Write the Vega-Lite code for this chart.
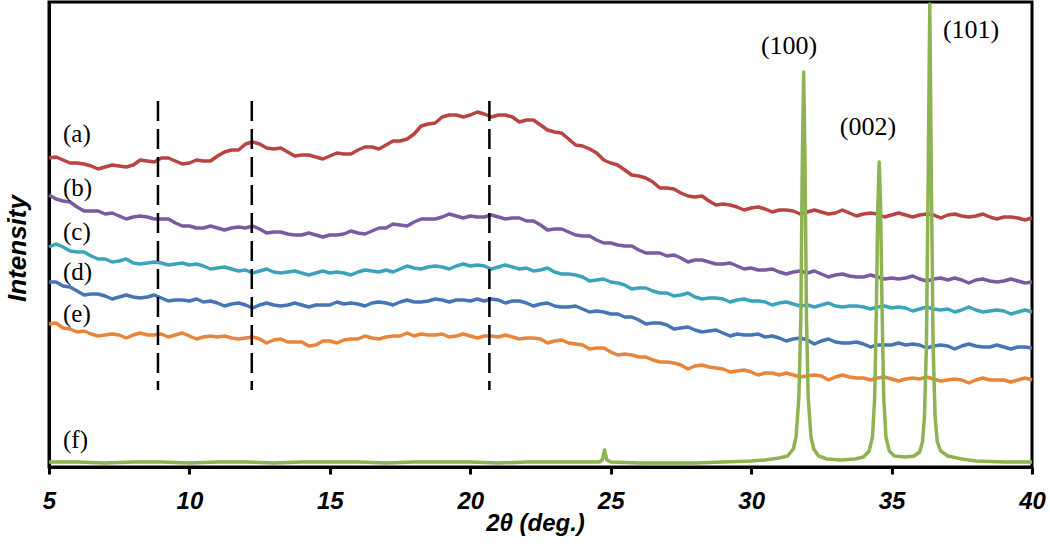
{
  "$schema": "https://vega.github.io/schema/vega-lite/v6.json",
  "width": 983,
  "height": 465,
  "autosize": "none",
  "padding": {"left": 49, "top": 2, "right": 18, "bottom": 79},
  "background": "white",
  "config": {
    "view": {"stroke": "black", "strokeWidth": 3},
    "axis": {"grid": false, "domainColor": "black", "domainWidth": 3, "tickColor": "black"}
  },
  "datasets": {
    "curves": [
      {"s":"a","x":5,"y":309},{"s":"a","x":5.25,"y":310},{"s":"a","x":5.5,"y":307},{"s":"a","x":5.75,"y":304},{"s":"a","x":6,"y":304},{"s":"a","x":6.25,"y":303},{"s":"a","x":6.5,"y":301},{"s":"a","x":6.75,"y":298},{"s":"a","x":7,"y":300},{"s":"a","x":7.25,"y":302},{"s":"a","x":7.5,"y":301},{"s":"a","x":7.75,"y":300},{"s":"a","x":8,"y":302},{"s":"a","x":8.25,"y":307},{"s":"a","x":8.5,"y":306},{"s":"a","x":8.75,"y":305},{"s":"a","x":9,"y":309},{"s":"a","x":9.25,"y":309},{"s":"a","x":9.5,"y":306},{"s":"a","x":9.75,"y":303},{"s":"a","x":10,"y":304},{"s":"a","x":10.25,"y":307},{"s":"a","x":10.5,"y":306},{"s":"a","x":10.75,"y":306},{"s":"a","x":11,"y":311},{"s":"a","x":11.25,"y":315},{"s":"a","x":11.5,"y":317},{"s":"a","x":11.75,"y":317},{"s":"a","x":12,"y":323},{"s":"a","x":12.25,"y":325},{"s":"a","x":12.5,"y":323},{"s":"a","x":12.75,"y":319},{"s":"a","x":13,"y":318},{"s":"a","x":13.25,"y":319},{"s":"a","x":13.5,"y":315},{"s":"a","x":13.75,"y":311},{"s":"a","x":14,"y":312},{"s":"a","x":14.25,"y":312},{"s":"a","x":14.5,"y":310},{"s":"a","x":14.75,"y":308},{"s":"a","x":15,"y":311},{"s":"a","x":15.25,"y":314},{"s":"a","x":15.5,"y":313},{"s":"a","x":15.75,"y":313},{"s":"a","x":16,"y":317},{"s":"a","x":16.25,"y":320},{"s":"a","x":16.5,"y":320},{"s":"a","x":16.75,"y":318},{"s":"a","x":17,"y":322},{"s":"a","x":17.25,"y":326},{"s":"a","x":17.5,"y":326},{"s":"a","x":17.75,"y":328},{"s":"a","x":18,"y":333},{"s":"a","x":18.25,"y":341},{"s":"a","x":18.5,"y":343},{"s":"a","x":18.75,"y":344},{"s":"a","x":19,"y":350},{"s":"a","x":19.25,"y":352},{"s":"a","x":19.5,"y":352},{"s":"a","x":19.75,"y":350},{"s":"a","x":20,"y":352},{"s":"a","x":20.25,"y":355},{"s":"a","x":20.5,"y":353},{"s":"a","x":20.75,"y":350},{"s":"a","x":21,"y":352},{"s":"a","x":21.25,"y":352},{"s":"a","x":21.5,"y":350},{"s":"a","x":21.75,"y":345},{"s":"a","x":22,"y":347},{"s":"a","x":22.25,"y":347},{"s":"a","x":22.5,"y":342},{"s":"a","x":22.75,"y":337},{"s":"a","x":23,"y":335},{"s":"a","x":23.25,"y":334},{"s":"a","x":23.5,"y":328},{"s":"a","x":23.75,"y":322},{"s":"a","x":24,"y":321},{"s":"a","x":24.25,"y":318},{"s":"a","x":24.5,"y":314},{"s":"a","x":24.75,"y":307},{"s":"a","x":25,"y":304},{"s":"a","x":25.25,"y":302},{"s":"a","x":25.5,"y":297},{"s":"a","x":25.75,"y":292},{"s":"a","x":26,"y":291},{"s":"a","x":26.25,"y":289},{"s":"a","x":26.5,"y":285},{"s":"a","x":26.75,"y":279},{"s":"a","x":27,"y":279},{"s":"a","x":27.25,"y":278},{"s":"a","x":27.5,"y":274},{"s":"a","x":27.75,"y":271},{"s":"a","x":28,"y":270},{"s":"a","x":28.25,"y":271},{"s":"a","x":28.5,"y":266},{"s":"a","x":28.75,"y":262},{"s":"a","x":29,"y":263},{"s":"a","x":29.25,"y":262},{"s":"a","x":29.5,"y":260},{"s":"a","x":29.75,"y":257},{"s":"a","x":30,"y":259},{"s":"a","x":30.25,"y":260},{"s":"a","x":30.5,"y":258},{"s":"a","x":30.75,"y":255},{"s":"a","x":31,"y":257},{"s":"a","x":31.25,"y":257},{"s":"a","x":31.5,"y":256},{"s":"a","x":31.75,"y":253},{"s":"a","x":32,"y":255},{"s":"a","x":32.25,"y":257},{"s":"a","x":32.5,"y":255},{"s":"a","x":32.75,"y":253},{"s":"a","x":33,"y":254},{"s":"a","x":33.25,"y":257},{"s":"a","x":33.5,"y":254},{"s":"a","x":33.75,"y":251},{"s":"a","x":34,"y":253},{"s":"a","x":34.25,"y":254},{"s":"a","x":34.5,"y":253},{"s":"a","x":34.75,"y":250},{"s":"a","x":35,"y":252},{"s":"a","x":35.25,"y":254},{"s":"a","x":35.5,"y":252},{"s":"a","x":35.75,"y":250},{"s":"a","x":36,"y":252},{"s":"a","x":36.25,"y":253},{"s":"a","x":36.5,"y":252},{"s":"a","x":36.75,"y":249},{"s":"a","x":37,"y":252},{"s":"a","x":37.25,"y":253},{"s":"a","x":37.5,"y":251},{"s":"a","x":37.75,"y":250},{"s":"a","x":38,"y":251},{"s":"a","x":38.25,"y":253},{"s":"a","x":38.5,"y":250},{"s":"a","x":38.75,"y":248},{"s":"a","x":39,"y":250},{"s":"a","x":39.25,"y":250},{"s":"a","x":39.5,"y":249},{"s":"a","x":39.75,"y":247},{"s":"a","x":40,"y":249},

      {"s":"b","x":5,"y":272},{"s":"b","x":5.25,"y":268},{"s":"b","x":5.5,"y":266},{"s":"b","x":5.75,"y":265},{"s":"b","x":6,"y":260},{"s":"b","x":6.25,"y":256},{"s":"b","x":6.5,"y":256},{"s":"b","x":6.75,"y":256},{"s":"b","x":7,"y":253},{"s":"b","x":7.25,"y":254},{"s":"b","x":7.5,"y":251},{"s":"b","x":7.75,"y":248},{"s":"b","x":8,"y":250},{"s":"b","x":8.25,"y":251},{"s":"b","x":8.5,"y":250},{"s":"b","x":8.75,"y":248},{"s":"b","x":9,"y":248},{"s":"b","x":9.25,"y":248},{"s":"b","x":9.5,"y":244},{"s":"b","x":9.75,"y":241},{"s":"b","x":10,"y":241},{"s":"b","x":10.25,"y":239},{"s":"b","x":10.5,"y":239},{"s":"b","x":10.75,"y":241},{"s":"b","x":11,"y":239},{"s":"b","x":11.25,"y":237},{"s":"b","x":11.5,"y":239},{"s":"b","x":11.75,"y":240},{"s":"b","x":12,"y":239},{"s":"b","x":12.25,"y":241},{"s":"b","x":12.5,"y":238},{"s":"b","x":12.75,"y":234},{"s":"b","x":13,"y":235},{"s":"b","x":13.25,"y":235},{"s":"b","x":13.5,"y":233},{"s":"b","x":13.75,"y":232},{"s":"b","x":14,"y":232},{"s":"b","x":14.25,"y":234},{"s":"b","x":14.5,"y":232},{"s":"b","x":14.75,"y":230},{"s":"b","x":15,"y":232},{"s":"b","x":15.25,"y":232},{"s":"b","x":15.5,"y":233},{"s":"b","x":15.75,"y":236},{"s":"b","x":16,"y":234},{"s":"b","x":16.25,"y":233},{"s":"b","x":16.5,"y":236},{"s":"b","x":16.75,"y":239},{"s":"b","x":17,"y":239},{"s":"b","x":17.25,"y":243},{"s":"b","x":17.5,"y":242},{"s":"b","x":17.75,"y":241},{"s":"b","x":18,"y":245},{"s":"b","x":18.25,"y":248},{"s":"b","x":18.5,"y":248},{"s":"b","x":18.75,"y":248},{"s":"b","x":19,"y":250},{"s":"b","x":19.25,"y":253},{"s":"b","x":19.5,"y":251},{"s":"b","x":19.75,"y":249},{"s":"b","x":20,"y":251},{"s":"b","x":20.25,"y":250},{"s":"b","x":20.5,"y":250},{"s":"b","x":20.75,"y":252},{"s":"b","x":21,"y":250},{"s":"b","x":21.25,"y":248},{"s":"b","x":21.5,"y":249},{"s":"b","x":21.75,"y":249},{"s":"b","x":22,"y":246},{"s":"b","x":22.25,"y":246},{"s":"b","x":22.5,"y":242},{"s":"b","x":22.75,"y":237},{"s":"b","x":23,"y":238},{"s":"b","x":23.25,"y":238},{"s":"b","x":23.5,"y":235},{"s":"b","x":23.75,"y":232},{"s":"b","x":24,"y":231},{"s":"b","x":24.25,"y":231},{"s":"b","x":24.5,"y":227},{"s":"b","x":24.75,"y":224},{"s":"b","x":25,"y":224},{"s":"b","x":25.25,"y":222},{"s":"b","x":25.5,"y":221},{"s":"b","x":25.75,"y":221},{"s":"b","x":26,"y":217},{"s":"b","x":26.25,"y":214},{"s":"b","x":26.5,"y":214},{"s":"b","x":26.75,"y":214},{"s":"b","x":27,"y":211},{"s":"b","x":27.25,"y":212},{"s":"b","x":27.5,"y":209},{"s":"b","x":27.75,"y":205},{"s":"b","x":28,"y":207},{"s":"b","x":28.25,"y":207},{"s":"b","x":28.5,"y":205},{"s":"b","x":28.75,"y":203},{"s":"b","x":29,"y":203},{"s":"b","x":29.25,"y":204},{"s":"b","x":29.5,"y":201},{"s":"b","x":29.75,"y":198},{"s":"b","x":30,"y":199},{"s":"b","x":30.25,"y":197},{"s":"b","x":30.5,"y":197},{"s":"b","x":30.75,"y":198},{"s":"b","x":31,"y":195},{"s":"b","x":31.25,"y":193},{"s":"b","x":31.5,"y":195},{"s":"b","x":31.75,"y":196},{"s":"b","x":32,"y":194},{"s":"b","x":32.25,"y":196},{"s":"b","x":32.5,"y":193},{"s":"b","x":32.75,"y":190},{"s":"b","x":33,"y":192},{"s":"b","x":33.25,"y":193},{"s":"b","x":33.5,"y":191},{"s":"b","x":33.75,"y":190},{"s":"b","x":34,"y":190},{"s":"b","x":34.25,"y":192},{"s":"b","x":34.5,"y":190},{"s":"b","x":34.75,"y":188},{"s":"b","x":35,"y":189},{"s":"b","x":35.25,"y":188},{"s":"b","x":35.5,"y":189},{"s":"b","x":35.75,"y":191},{"s":"b","x":36,"y":188},{"s":"b","x":36.25,"y":186},{"s":"b","x":36.5,"y":188},{"s":"b","x":36.75,"y":189},{"s":"b","x":37,"y":187},{"s":"b","x":37.25,"y":189},{"s":"b","x":37.5,"y":187},{"s":"b","x":37.75,"y":184},{"s":"b","x":38,"y":187},{"s":"b","x":38.25,"y":188},{"s":"b","x":38.5,"y":186},{"s":"b","x":38.75,"y":185},{"s":"b","x":39,"y":186},{"s":"b","x":39.25,"y":188},{"s":"b","x":39.5,"y":186},{"s":"b","x":39.75,"y":184},{"s":"b","x":40,"y":185},

      {"s":"c","x":5,"y":220},{"s":"c","x":5.25,"y":223},{"s":"c","x":5.5,"y":220},{"s":"c","x":5.75,"y":216},{"s":"c","x":6,"y":215},{"s":"c","x":6.25,"y":215},{"s":"c","x":6.5,"y":211},{"s":"c","x":6.75,"y":208},{"s":"c","x":7,"y":208},{"s":"c","x":7.25,"y":205},{"s":"c","x":7.5,"y":206},{"s":"c","x":7.75,"y":208},{"s":"c","x":8,"y":204},{"s":"c","x":8.25,"y":203},{"s":"c","x":8.5,"y":204},{"s":"c","x":8.75,"y":205},{"s":"c","x":9,"y":204},{"s":"c","x":9.25,"y":202},{"s":"c","x":9.5,"y":203},{"s":"c","x":9.75,"y":204},{"s":"c","x":10,"y":202},{"s":"c","x":10.25,"y":203},{"s":"c","x":10.5,"y":201},{"s":"c","x":10.75,"y":198},{"s":"c","x":11,"y":199},{"s":"c","x":11.25,"y":200},{"s":"c","x":11.5,"y":198},{"s":"c","x":11.75,"y":196},{"s":"c","x":12,"y":197},{"s":"c","x":12.25,"y":194},{"s":"c","x":12.5,"y":196},{"s":"c","x":12.75,"y":198},{"s":"c","x":13,"y":195},{"s":"c","x":13.25,"y":194},{"s":"c","x":13.5,"y":195},{"s":"c","x":13.75,"y":196},{"s":"c","x":14,"y":194},{"s":"c","x":14.25,"y":192},{"s":"c","x":14.5,"y":194},{"s":"c","x":14.75,"y":196},{"s":"c","x":15,"y":194},{"s":"c","x":15.25,"y":195},{"s":"c","x":15.5,"y":194},{"s":"c","x":15.75,"y":192},{"s":"c","x":16,"y":195},{"s":"c","x":16.25,"y":197},{"s":"c","x":16.5,"y":196},{"s":"c","x":16.75,"y":195},{"s":"c","x":17,"y":197},{"s":"c","x":17.25,"y":195},{"s":"c","x":17.5,"y":198},{"s":"c","x":17.75,"y":201},{"s":"c","x":18,"y":199},{"s":"c","x":18.25,"y":198},{"s":"c","x":18.5,"y":200},{"s":"c","x":18.75,"y":201},{"s":"c","x":19,"y":200},{"s":"c","x":19.25,"y":198},{"s":"c","x":19.5,"y":201},{"s":"c","x":19.75,"y":203},{"s":"c","x":20,"y":201},{"s":"c","x":20.25,"y":202},{"s":"c","x":20.5,"y":201},{"s":"c","x":20.75,"y":198},{"s":"c","x":21,"y":200},{"s":"c","x":21.25,"y":202},{"s":"c","x":21.5,"y":200},{"s":"c","x":21.75,"y":198},{"s":"c","x":22,"y":199},{"s":"c","x":22.25,"y":196},{"s":"c","x":22.5,"y":197},{"s":"c","x":22.75,"y":199},{"s":"c","x":23,"y":195},{"s":"c","x":23.25,"y":193},{"s":"c","x":23.5,"y":193},{"s":"c","x":23.75,"y":192},{"s":"c","x":24,"y":190},{"s":"c","x":24.25,"y":186},{"s":"c","x":24.5,"y":187},{"s":"c","x":24.75,"y":188},{"s":"c","x":25,"y":185},{"s":"c","x":25.25,"y":184},{"s":"c","x":25.5,"y":182},{"s":"c","x":25.75,"y":178},{"s":"c","x":26,"y":179},{"s":"c","x":26.25,"y":179},{"s":"c","x":26.5,"y":176},{"s":"c","x":26.75,"y":174},{"s":"c","x":27,"y":174},{"s":"c","x":27.25,"y":171},{"s":"c","x":27.5,"y":172},{"s":"c","x":27.75,"y":174},{"s":"c","x":28,"y":170},{"s":"c","x":28.25,"y":168},{"s":"c","x":28.5,"y":169},{"s":"c","x":28.75,"y":169},{"s":"c","x":29,"y":168},{"s":"c","x":29.25,"y":165},{"s":"c","x":29.5,"y":167},{"s":"c","x":29.75,"y":168},{"s":"c","x":30,"y":166},{"s":"c","x":30.25,"y":166},{"s":"c","x":30.5,"y":165},{"s":"c","x":30.75,"y":162},{"s":"c","x":31,"y":164},{"s":"c","x":31.25,"y":165},{"s":"c","x":31.5,"y":163},{"s":"c","x":31.75,"y":161},{"s":"c","x":32,"y":162},{"s":"c","x":32.25,"y":160},{"s":"c","x":32.5,"y":162},{"s":"c","x":32.75,"y":164},{"s":"c","x":33,"y":161},{"s":"c","x":33.25,"y":160},{"s":"c","x":33.5,"y":161},{"s":"c","x":33.75,"y":161},{"s":"c","x":34,"y":160},{"s":"c","x":34.25,"y":158},{"s":"c","x":34.5,"y":160},{"s":"c","x":34.75,"y":161},{"s":"c","x":35,"y":159},{"s":"c","x":35.25,"y":160},{"s":"c","x":35.5,"y":159},{"s":"c","x":35.75,"y":156},{"s":"c","x":36,"y":158},{"s":"c","x":36.25,"y":160},{"s":"c","x":36.5,"y":158},{"s":"c","x":36.75,"y":157},{"s":"c","x":37,"y":158},{"s":"c","x":37.25,"y":155},{"s":"c","x":37.5,"y":157},{"s":"c","x":37.75,"y":160},{"s":"c","x":38,"y":157},{"s":"c","x":38.25,"y":155},{"s":"c","x":38.5,"y":156},{"s":"c","x":38.75,"y":157},{"s":"c","x":39,"y":156},{"s":"c","x":39.25,"y":153},{"s":"c","x":39.5,"y":155},{"s":"c","x":39.75,"y":157},{"s":"c","x":40,"y":155},

      {"s":"d","x":5,"y":185},{"s":"d","x":5.25,"y":185},{"s":"d","x":5.5,"y":181},{"s":"d","x":5.75,"y":180},{"s":"d","x":6,"y":176},{"s":"d","x":6.25,"y":172},{"s":"d","x":6.5,"y":173},{"s":"d","x":6.75,"y":173},{"s":"d","x":7,"y":171},{"s":"d","x":7.25,"y":168},{"s":"d","x":7.5,"y":170},{"s":"d","x":7.75,"y":172},{"s":"d","x":8,"y":170},{"s":"d","x":8.25,"y":169},{"s":"d","x":8.5,"y":170},{"s":"d","x":8.75,"y":172},{"s":"d","x":9,"y":169},{"s":"d","x":9.25,"y":166},{"s":"d","x":9.5,"y":167},{"s":"d","x":9.75,"y":167},{"s":"d","x":10,"y":166},{"s":"d","x":10.25,"y":168},{"s":"d","x":10.5,"y":165},{"s":"d","x":10.75,"y":166},{"s":"d","x":11,"y":164},{"s":"d","x":11.25,"y":161},{"s":"d","x":11.5,"y":163},{"s":"d","x":11.75,"y":164},{"s":"d","x":12,"y":162},{"s":"d","x":12.25,"y":159},{"s":"d","x":12.5,"y":162},{"s":"d","x":12.75,"y":164},{"s":"d","x":13,"y":162},{"s":"d","x":13.25,"y":161},{"s":"d","x":13.5,"y":162},{"s":"d","x":13.75,"y":164},{"s":"d","x":14,"y":162},{"s":"d","x":14.25,"y":160},{"s":"d","x":14.5,"y":162},{"s":"d","x":14.75,"y":162},{"s":"d","x":15,"y":162},{"s":"d","x":15.25,"y":165},{"s":"d","x":15.5,"y":163},{"s":"d","x":15.75,"y":164},{"s":"d","x":16,"y":163},{"s":"d","x":16.25,"y":161},{"s":"d","x":16.5,"y":164},{"s":"d","x":16.75,"y":165},{"s":"d","x":17,"y":164},{"s":"d","x":17.25,"y":162},{"s":"d","x":17.5,"y":165},{"s":"d","x":17.75,"y":167},{"s":"d","x":18,"y":165},{"s":"d","x":18.25,"y":165},{"s":"d","x":18.5,"y":166},{"s":"d","x":18.75,"y":168},{"s":"d","x":19,"y":167},{"s":"d","x":19.25,"y":165},{"s":"d","x":19.5,"y":167},{"s":"d","x":19.75,"y":167},{"s":"d","x":20,"y":166},{"s":"d","x":20.25,"y":168},{"s":"d","x":20.5,"y":166},{"s":"d","x":20.75,"y":168},{"s":"d","x":21,"y":167},{"s":"d","x":21.25,"y":164},{"s":"d","x":21.5,"y":166},{"s":"d","x":21.75,"y":166},{"s":"d","x":22,"y":164},{"s":"d","x":22.25,"y":161},{"s":"d","x":22.5,"y":163},{"s":"d","x":22.75,"y":164},{"s":"d","x":23,"y":161},{"s":"d","x":23.25,"y":160},{"s":"d","x":23.5,"y":160},{"s":"d","x":23.75,"y":161},{"s":"d","x":24,"y":158},{"s":"d","x":24.25,"y":155},{"s":"d","x":24.5,"y":156},{"s":"d","x":24.75,"y":155},{"s":"d","x":25,"y":153},{"s":"d","x":25.25,"y":153},{"s":"d","x":25.5,"y":150},{"s":"d","x":25.75,"y":150},{"s":"d","x":26,"y":147},{"s":"d","x":26.25,"y":143},{"s":"d","x":26.5,"y":144},{"s":"d","x":26.75,"y":144},{"s":"d","x":27,"y":142},{"s":"d","x":27.25,"y":138},{"s":"d","x":27.5,"y":139},{"s":"d","x":27.75,"y":140},{"s":"d","x":28,"y":137},{"s":"d","x":28.25,"y":135},{"s":"d","x":28.5,"y":136},{"s":"d","x":28.75,"y":137},{"s":"d","x":29,"y":134},{"s":"d","x":29.25,"y":131},{"s":"d","x":29.5,"y":133},{"s":"d","x":29.75,"y":132},{"s":"d","x":30,"y":132},{"s":"d","x":30.25,"y":133},{"s":"d","x":30.5,"y":130},{"s":"d","x":30.75,"y":131},{"s":"d","x":31,"y":129},{"s":"d","x":31.25,"y":126},{"s":"d","x":31.5,"y":128},{"s":"d","x":31.75,"y":129},{"s":"d","x":32,"y":127},{"s":"d","x":32.25,"y":123},{"s":"d","x":32.5,"y":126},{"s":"d","x":32.75,"y":128},{"s":"d","x":33,"y":125},{"s":"d","x":33.25,"y":124},{"s":"d","x":33.5,"y":124},{"s":"d","x":33.75,"y":125},{"s":"d","x":34,"y":123},{"s":"d","x":34.25,"y":120},{"s":"d","x":34.5,"y":122},{"s":"d","x":34.75,"y":122},{"s":"d","x":35,"y":122},{"s":"d","x":35.25,"y":124},{"s":"d","x":35.5,"y":122},{"s":"d","x":35.75,"y":123},{"s":"d","x":36,"y":122},{"s":"d","x":36.25,"y":119},{"s":"d","x":36.5,"y":121},{"s":"d","x":36.75,"y":122},{"s":"d","x":37,"y":121},{"s":"d","x":37.25,"y":118},{"s":"d","x":37.5,"y":121},{"s":"d","x":37.75,"y":123},{"s":"d","x":38,"y":121},{"s":"d","x":38.25,"y":120},{"s":"d","x":38.5,"y":120},{"s":"d","x":38.75,"y":122},{"s":"d","x":39,"y":120},{"s":"d","x":39.25,"y":118},{"s":"d","x":39.5,"y":120},{"s":"d","x":39.75,"y":120},{"s":"d","x":40,"y":119},

      {"s":"e","x":5,"y":143},{"s":"e","x":5.25,"y":144},{"s":"e","x":5.5,"y":139},{"s":"e","x":5.75,"y":138},{"s":"e","x":6,"y":135},{"s":"e","x":6.25,"y":136},{"s":"e","x":6.5,"y":133},{"s":"e","x":6.75,"y":131},{"s":"e","x":7,"y":132},{"s":"e","x":7.25,"y":133},{"s":"e","x":7.5,"y":132},{"s":"e","x":7.75,"y":129},{"s":"e","x":8,"y":132},{"s":"e","x":8.25,"y":134},{"s":"e","x":8.5,"y":132},{"s":"e","x":8.75,"y":132},{"s":"e","x":9,"y":133},{"s":"e","x":9.25,"y":130},{"s":"e","x":9.5,"y":132},{"s":"e","x":9.75,"y":134},{"s":"e","x":10,"y":131},{"s":"e","x":10.25,"y":128},{"s":"e","x":10.5,"y":130},{"s":"e","x":10.75,"y":131},{"s":"e","x":11,"y":130},{"s":"e","x":11.25,"y":131},{"s":"e","x":11.5,"y":129},{"s":"e","x":11.75,"y":128},{"s":"e","x":12,"y":129},{"s":"e","x":12.25,"y":130},{"s":"e","x":12.5,"y":128},{"s":"e","x":12.75,"y":124},{"s":"e","x":13,"y":127},{"s":"e","x":13.25,"y":128},{"s":"e","x":13.5,"y":125},{"s":"e","x":13.75,"y":125},{"s":"e","x":14,"y":125},{"s":"e","x":14.25,"y":121},{"s":"e","x":14.5,"y":122},{"s":"e","x":14.75,"y":126},{"s":"e","x":15,"y":126},{"s":"e","x":15.25,"y":124},{"s":"e","x":15.5,"y":127},{"s":"e","x":15.75,"y":128},{"s":"e","x":16,"y":128},{"s":"e","x":16.25,"y":131},{"s":"e","x":16.5,"y":129},{"s":"e","x":16.75,"y":128},{"s":"e","x":17,"y":130},{"s":"e","x":17.25,"y":131},{"s":"e","x":17.5,"y":131},{"s":"e","x":17.75,"y":134},{"s":"e","x":18,"y":131},{"s":"e","x":18.25,"y":133},{"s":"e","x":18.5,"y":132},{"s":"e","x":18.75,"y":132},{"s":"e","x":19,"y":133},{"s":"e","x":19.25,"y":130},{"s":"e","x":19.5,"y":131},{"s":"e","x":19.75,"y":133},{"s":"e","x":20,"y":131},{"s":"e","x":20.25,"y":129},{"s":"e","x":20.5,"y":131},{"s":"e","x":20.75,"y":131},{"s":"e","x":21,"y":130},{"s":"e","x":21.25,"y":132},{"s":"e","x":21.5,"y":130},{"s":"e","x":21.75,"y":128},{"s":"e","x":22,"y":129},{"s":"e","x":22.25,"y":129},{"s":"e","x":22.5,"y":128},{"s":"e","x":22.75,"y":124},{"s":"e","x":23,"y":126},{"s":"e","x":23.25,"y":127},{"s":"e","x":23.5,"y":124},{"s":"e","x":23.75,"y":123},{"s":"e","x":24,"y":122},{"s":"e","x":24.25,"y":118},{"s":"e","x":24.5,"y":119},{"s":"e","x":24.75,"y":119},{"s":"e","x":25,"y":115},{"s":"e","x":25.25,"y":112},{"s":"e","x":25.5,"y":113},{"s":"e","x":25.75,"y":112},{"s":"e","x":26,"y":110},{"s":"e","x":26.25,"y":110},{"s":"e","x":26.5,"y":107},{"s":"e","x":26.75,"y":105},{"s":"e","x":27,"y":105},{"s":"e","x":27.25,"y":104},{"s":"e","x":27.5,"y":102},{"s":"e","x":27.75,"y":98},{"s":"e","x":28,"y":101},{"s":"e","x":28.25,"y":102},{"s":"e","x":28.5,"y":100},{"s":"e","x":28.75,"y":99},{"s":"e","x":29,"y":98},{"s":"e","x":29.25,"y":95},{"s":"e","x":29.5,"y":96},{"s":"e","x":29.75,"y":97},{"s":"e","x":30,"y":95},{"s":"e","x":30.25,"y":92},{"s":"e","x":30.5,"y":94},{"s":"e","x":30.75,"y":94},{"s":"e","x":31,"y":92},{"s":"e","x":31.25,"y":94},{"s":"e","x":31.5,"y":92},{"s":"e","x":31.75,"y":90},{"s":"e","x":32,"y":91},{"s":"e","x":32.25,"y":92},{"s":"e","x":32.5,"y":91},{"s":"e","x":32.75,"y":87},{"s":"e","x":33,"y":90},{"s":"e","x":33.25,"y":92},{"s":"e","x":33.5,"y":90},{"s":"e","x":33.75,"y":89},{"s":"e","x":34,"y":89},{"s":"e","x":34.25,"y":87},{"s":"e","x":34.5,"y":89},{"s":"e","x":34.75,"y":90},{"s":"e","x":35,"y":88},{"s":"e","x":35.25,"y":86},{"s":"e","x":35.5,"y":88},{"s":"e","x":35.75,"y":89},{"s":"e","x":36,"y":88},{"s":"e","x":36.25,"y":90},{"s":"e","x":36.5,"y":88},{"s":"e","x":36.75,"y":86},{"s":"e","x":37,"y":87},{"s":"e","x":37.25,"y":88},{"s":"e","x":37.5,"y":87},{"s":"e","x":37.75,"y":84},{"s":"e","x":38,"y":87},{"s":"e","x":38.25,"y":89},{"s":"e","x":38.5,"y":87},{"s":"e","x":38.75,"y":87},{"s":"e","x":39,"y":87},{"s":"e","x":39.25,"y":85},{"s":"e","x":39.5,"y":87},{"s":"e","x":39.75,"y":89},{"s":"e","x":40,"y":87},

      {"s":"f","x":5,"y":5},{"s":"f","x":6,"y":5},{"s":"f","x":7,"y":4},{"s":"f","x":8,"y":5},{"s":"f","x":9,"y":5},{"s":"f","x":10,"y":4},{"s":"f","x":11,"y":5},{"s":"f","x":12,"y":5},{"s":"f","x":13,"y":4},{"s":"f","x":14,"y":5},{"s":"f","x":15,"y":5},{"s":"f","x":16,"y":5},{"s":"f","x":17,"y":4},{"s":"f","x":18,"y":5},{"s":"f","x":19,"y":5},{"s":"f","x":20,"y":5},{"s":"f","x":21,"y":4},{"s":"f","x":22,"y":5},{"s":"f","x":23,"y":5},{"s":"f","x":24,"y":5},{"s":"f","x":24.6,"y":5},{"s":"f","x":24.7,"y":7},{"s":"f","x":24.78,"y":17},{"s":"f","x":24.86,"y":7},{"s":"f","x":25,"y":5},{"s":"f","x":26,"y":4},{"s":"f","x":27,"y":4},{"s":"f","x":28,"y":4},{"s":"f","x":29,"y":5},{"s":"f","x":30,"y":6},{"s":"f","x":30.5,"y":7},{"s":"f","x":31,"y":9},{"s":"f","x":31.3,"y":11},{"s":"f","x":31.5,"y":18},{"s":"f","x":31.6,"y":30},{"s":"f","x":31.7,"y":70},{"s":"f","x":31.77,"y":150},{"s":"f","x":31.82,"y":300},{"s":"f","x":31.87,"y":395},{"s":"f","x":31.92,"y":300},{"s":"f","x":31.97,"y":150},{"s":"f","x":32.03,"y":70},{"s":"f","x":32.13,"y":30},{"s":"f","x":32.23,"y":18},{"s":"f","x":32.4,"y":11},{"s":"f","x":32.7,"y":8},{"s":"f","x":33.2,"y":7},{"s":"f","x":33.7,"y":8},{"s":"f","x":34,"y":10},{"s":"f","x":34.2,"y":16},{"s":"f","x":34.32,"y":30},{"s":"f","x":34.4,"y":70},{"s":"f","x":34.46,"y":160},{"s":"f","x":34.51,"y":260},{"s":"f","x":34.56,"y":305},{"s":"f","x":34.61,"y":260},{"s":"f","x":34.66,"y":160},{"s":"f","x":34.72,"y":70},{"s":"f","x":34.8,"y":30},{"s":"f","x":34.92,"y":16},{"s":"f","x":35.1,"y":11},{"s":"f","x":35.5,"y":10},{"s":"f","x":35.8,"y":11},{"s":"f","x":36,"y":15},{"s":"f","x":36.1,"y":25},{"s":"f","x":36.17,"y":50},{"s":"f","x":36.24,"y":120},{"s":"f","x":36.3,"y":280},{"s":"f","x":36.36,"y":463},{"s":"f","x":36.42,"y":280},{"s":"f","x":36.48,"y":120},{"s":"f","x":36.55,"y":50},{"s":"f","x":36.63,"y":25},{"s":"f","x":36.75,"y":16},{"s":"f","x":37,"y":11},{"s":"f","x":37.5,"y":8},{"s":"f","x":38,"y":6},{"s":"f","x":39,"y":5},{"s":"f","x":40,"y":5}
    ],
    "markers": [{"x": 8.88}, {"x": 12.22}, {"x": 20.68}],
    "serieslabels": [
      {"x": 5.5, "y": 333, "t": "(a)"},
      {"x": 5.5, "y": 279, "t": "(b)"},
      {"x": 5.5, "y": 235, "t": "(c)"},
      {"x": 5.5, "y": 195, "t": "(d)"},
      {"x": 5.5, "y": 153, "t": "(e)"},
      {"x": 5.5, "y": 27, "t": "(f)"}
    ],
    "peaklabels": [
      {"x": 31.35, "y": 421, "t": "(100)"},
      {"x": 34.16, "y": 340, "t": "(002)"},
      {"x": 37.83, "y": 437, "t": "(101)"}
    ]
  },
  "layer": [
    {
      "data": {"name": "curves"},
      "mark": {"type": "line", "strokeWidth": 3.5, "strokeJoin": "round"},
      "encoding": {
        "x": {
          "field": "x", "type": "quantitative",
          "scale": {"domain": [5, 40], "nice": false, "zero": false},
          "axis": {
            "values": [5, 10, 15, 20, 25, 30, 35, 40],
            "title": "2θ (deg.)",
            "titleFont": "Liberation Sans", "titleFontSize": 24, "titleFontWeight": "bold", "titleFontStyle": "italic",
            "titleColor": "black", "titleX": 486, "titleY": 56, "titleBaseline": "middle", "titleAlign": "center",
            "labelFont": "Liberation Sans", "labelFontSize": 24, "labelFontWeight": "bold", "labelFontStyle": "italic",
            "labelColor": "black", "labelFlush": false, "labelOverlap": false, "labelPadding": 15,
            "tickSize": 7, "tickWidth": 3
          }
        },
        "y": {
          "field": "y", "type": "quantitative",
          "scale": {"domain": [0, 465], "nice": false},
          "axis": {
            "ticks": false, "labels": false,
            "title": "Intensity",
            "titleFont": "Liberation Sans", "titleFontSize": 26, "titleFontWeight": "bold", "titleFontStyle": "italic",
            "titleColor": "black", "titleX": -32, "titleY": 246, "titleBaseline": "middle", "titleAlign": "center", "titleAngle": 270
          }
        },
        "color": {
          "field": "s", "type": "nominal", "legend": null,
          "scale": {"domain": ["a", "b", "c", "d", "e", "f"], "range": ["#B84542", "#7A5AA0", "#3CA3BC", "#4674B4", "#E8853A", "#8DB353"]}
        },
        "detail": {"field": "s"}
      }
    },
    {
      "data": {"name": "markers"},
      "mark": {"type": "rule", "color": "black", "strokeWidth": 2.5, "strokeDash": [20, 8]},
      "encoding": {
        "x": {"field": "x", "type": "quantitative"},
        "y": {"datum": 366},
        "y2": {"datum": 77}
      }
    },
    {
      "data": {"name": "serieslabels"},
      "mark": {"type": "text", "font": "Liberation Serif", "fontSize": 25, "align": "left", "baseline": "middle", "color": "black"},
      "encoding": {
        "x": {"field": "x", "type": "quantitative"},
        "y": {"field": "y", "type": "quantitative"},
        "text": {"field": "t"}
      }
    },
    {
      "data": {"name": "peaklabels"},
      "mark": {"type": "text", "font": "Liberation Serif", "fontSize": 26, "align": "center", "baseline": "middle", "color": "black"},
      "encoding": {
        "x": {"field": "x", "type": "quantitative"},
        "y": {"field": "y", "type": "quantitative"},
        "text": {"field": "t"}
      }
    }
  ]
}
